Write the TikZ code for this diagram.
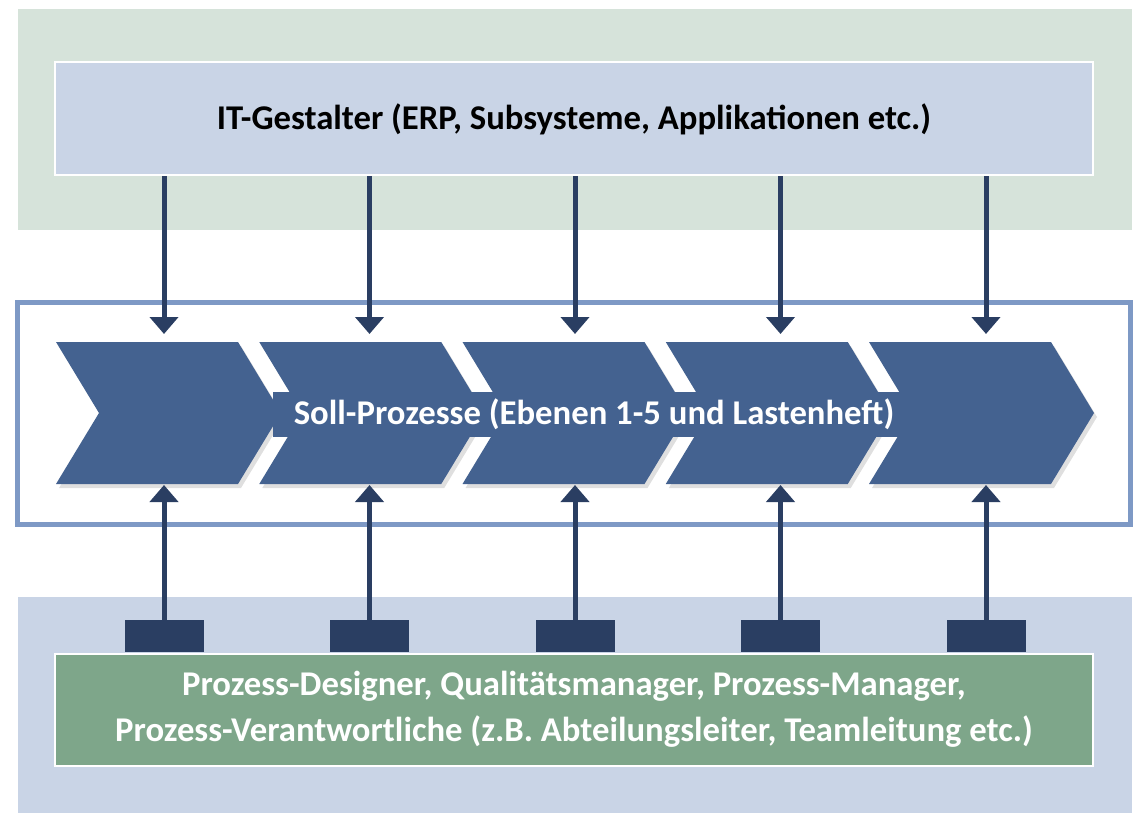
\documentclass[tikz,border=0pt]{standalone}
\usepackage{fontspec}
\setmainfont{Carlito}
\usepackage{tikz}
\usetikzlibrary{positioning,arrows.meta,shadows}

\definecolor{bandgreen}{HTML}{D6E3DA}
\definecolor{boxblue}{HTML}{C9D4E6}
\definecolor{frameblue}{HTML}{7E99C5}
\definecolor{chevblue}{HTML}{446290}
\definecolor{arrnavy}{HTML}{2A3E62}
\definecolor{boxgreen}{HTML}{7EA68A}

\begin{document}
\begin{tikzpicture}[x=1pt, y=-1pt,
    wide box/.style={draw=white, line width=2pt, minimum width=1038pt, minimum height=113pt,
        inner sep=0pt, align=center, font=\fontsize{34.7}{46}\selectfont\bfseries},
    frame/.style={draw=frameblue, line width=5pt, minimum width=1113pt, minimum height=222pt, inner sep=0pt},
    chevron/.style={fill=chevblue, drop shadow={shadow xshift=3pt, shadow yshift=-4pt, opacity=0.25}},
    holder/.style={fill=arrnavy, minimum width=79pt, minimum height=32pt, inner sep=0pt},
    flow/.style={draw=arrnavy, line width=5pt, -{Triangle[width=28pt, length=17pt]}}]

    \useasboundingbox (0,0) rectangle (1135,813);
    \fill[bandgreen] (18,9) rectangle (1132,230);
    \fill[boxblue] (18,597) rectangle (1132,813);

    \node[wide box, fill=boxblue, text=black] (it) at (574,119) {IT-Gestalter (ERP, Subsysteme, Applikationen etc.)};
    \node[frame] (soll) at (574,413.5) {};

    \foreach \i in {0,...,4} {
        \pgfmathsetmacro{\cl}{56+203.25*\i}
        \path[chevron] (\cl,342) -- ++(182,0) -- ++(43,71) -- ++(-43,71) -- ++(-182,0) -- ++(43,-71) -- cycle;
    }

    \node[fill=chevblue, text=white, inner xsep=21pt, minimum height=45pt,
        font=\fontsize{34.7}{40}\selectfont\bfseries] (soll text) at (594,414) {Soll-Prozesse (Ebenen 1-5 und Lastenheft)};

    \node[wide box, fill=boxgreen, text=white, minimum height=112pt] (roles) at (574,709.5)
        {Prozess-Designer, Qualitätsmanager, Prozess-Manager,\\Prozess-Verantwortliche (z.B. Abteilungsleiter, Teamleitung etc.)};

    % Pfeile oben und unten
    \foreach \i in {0,...,4} {
        \pgfmathsetmacro{\ax}{164+205.5*\i}
        \coordinate (ct\i) at (\ax,342);
        \coordinate (cb\i) at (\ax,484);
        \node[holder, above=0pt of roles.north -| ct\i] (r\i) {};
        \draw[flow, shorten >=8pt] (it.south -| ct\i) -- (ct\i);
        \draw[flow, shorten >=1pt] (r\i.north) -- (cb\i);
    }
\end{tikzpicture}
\end{document}
